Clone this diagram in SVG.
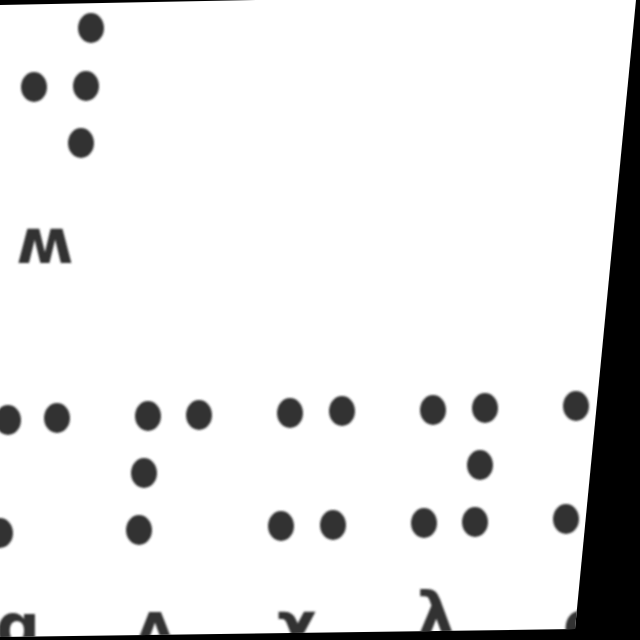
<svg xmlns="http://www.w3.org/2000/svg" width="640" height="640" viewBox="0 0 640 640">
  <defs>
    <style>
      .dot { fill: #333333; }
      .lbl { font-family: "DejaVu Sans", "Liberation Sans", sans-serif; font-weight: bold; font-size: 62px; fill: #333333; text-anchor: middle; }
    </style>
    <clipPath id="page">
      <polygon points="0,5 260,0 636,0 575,629 0,637"/>
    </clipPath>
    <filter id="soft" x="-5%" y="-5%" width="110%" height="110%">
      <feGaussianBlur stdDeviation="0.8"/>
    </filter>
  </defs>
  <rect width="640" height="640" fill="#000000"/>
  <polygon points="0,5 260,0 636,0 575,629 0,637" fill="#ffffff"/>
  <g clip-path="url(#page)" filter="url(#soft)">
    <g id="cell-top">
      <ellipse class="dot" cx="91" cy="28" rx="13" ry="15"/>
      <ellipse class="dot" cx="34" cy="87" rx="13" ry="15"/>
      <ellipse class="dot" cx="86" cy="86" rx="13" ry="15"/>
      <ellipse class="dot" cx="81" cy="143" rx="13" ry="15"/>
      <text class="lbl" x="45" y="263">ʍ</text>
    </g>
    <g id="cell-1">
      <ellipse class="dot" cx="8" cy="420" rx="13" ry="15"/>
      <ellipse class="dot" cx="57" cy="418" rx="13" ry="15"/>
      <ellipse class="dot" cx="0" cy="533" rx="13" ry="15"/>
      <text class="lbl" x="18" y="648">ɑ</text>
    </g>
    <g id="cell-2">
      <ellipse class="dot" cx="148" cy="416" rx="13" ry="15"/>
      <ellipse class="dot" cx="199" cy="415" rx="13" ry="15"/>
      <ellipse class="dot" cx="144" cy="473" rx="13" ry="15"/>
      <ellipse class="dot" cx="139" cy="530" rx="13" ry="15"/>
      <text class="lbl" x="155" y="646">ʌ</text>
    </g>
    <g id="cell-3">
      <ellipse class="dot" cx="290" cy="413" rx="13" ry="15"/>
      <ellipse class="dot" cx="342" cy="411" rx="13" ry="15"/>
      <ellipse class="dot" cx="281" cy="526" rx="13" ry="15"/>
      <ellipse class="dot" cx="333" cy="525" rx="13" ry="15"/>
      <text class="lbl" x="297" y="646">χ</text>
    </g>
    <g id="cell-4">
      <ellipse class="dot" cx="433" cy="410" rx="13" ry="15"/>
      <ellipse class="dot" cx="485" cy="408" rx="13" ry="15"/>
      <ellipse class="dot" cx="480" cy="465" rx="13" ry="15"/>
      <ellipse class="dot" cx="424" cy="523" rx="13" ry="15"/>
      <ellipse class="dot" cx="475" cy="522" rx="13" ry="15"/>
      <text class="lbl" x="436" y="636">λ</text>
    </g>
    <g id="cell-5">
      <ellipse class="dot" cx="576" cy="406" rx="13" ry="15"/>
      <ellipse class="dot" cx="566" cy="519" rx="13" ry="15"/>
      <text class="lbl" x="585" y="646">ɑ</text>
    </g>
  </g>
</svg>
